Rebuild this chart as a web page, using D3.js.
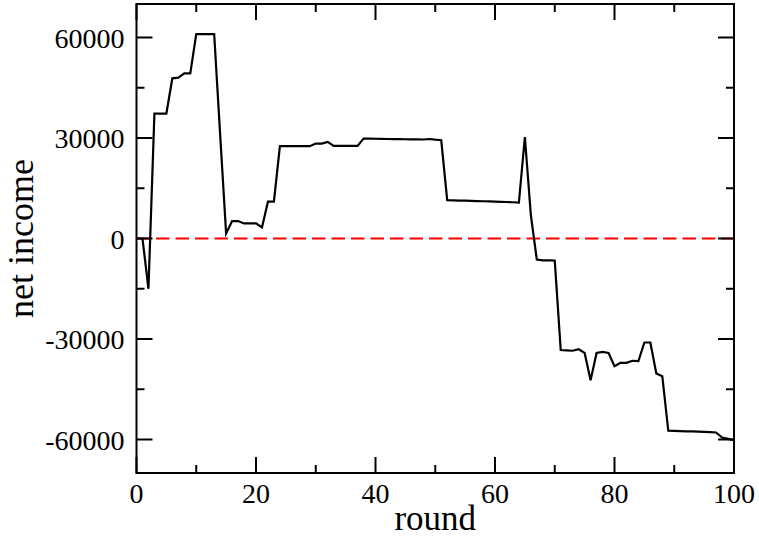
<!DOCTYPE html>
<html>
<head>
<meta charset="utf-8">
<script src="https://cdn.jsdelivr.net/npm/d3@7"></script>
<style>
  body { margin: 0; background: #fff; }
  svg text { font-family: "Liberation Serif", "Times New Roman", serif; fill: #000; }
</style>
</head>
<body>
<div id="chart"></div>
<script>
const W = 759, H = 539;
const margin = {top: 4, right: 25, bottom: 66, left: 136.5};

// net income per round
const rounds = d3.range(0, 101);
const income = [
  0, 0, -15000, 37300, 37300, 37300, 47800, 48000, 49300, 49300,
  61000, 61000, 61000, 61000, 31000, 1500, 5200, 5200, 4500, 4500,
  4500, 3300, 11000, 11000, 27550, 27550, 27550, 27550, 27550, 27550,
  28350, 28350, 28850, 27650, 27650, 27650, 27650, 27650, 29850, 29800,
  29780, 29750, 29700, 29680, 29650, 29620, 29600, 29580, 29550, 29700,
  29500, 29350, 11430, 11380, 11330, 11280, 11230, 11180, 11120, 11060,
  11000, 10950, 10900, 10820, 10750, 30300, 7000, -6300, -6500, -6500,
  -6600, -33300, -33400, -33500, -33050, -34150, -42300, -34150, -33850, -34150,
  -38100, -37100, -37100, -36500, -36600, -31050, -31050, -40300, -41100, -57400,
  -57450, -57500, -57550, -57600, -57650, -57700, -57800, -57900, -59400, -59800,
  -60200
];

const xDomain = [0, 100];
const yDomain = [-70000, 70000];
const xMajor = [0, 20, 40, 60, 80, 100];
const xMinor = [10, 30, 50, 70, 90];
const yMajor = [-60000, -30000, 0, 30000, 60000];
const yMinor = [-45000, -15000, 15000, 45000];

const iw = W - margin.left - margin.right,
    ih = H - margin.top - margin.bottom;

const x = d3.scaleLinear().domain(xDomain).range([0, iw]);
const y = d3.scaleLinear().domain(yDomain).range([ih, 0]);

const svg = d3.select("#chart").append("svg")
    .attr("width", W)
    .attr("height", H);

const g = svg.append("g")
    .attr("transform", "translate(" + margin.left + "," + margin.top + ")");

// zero reference line
g.append("line")
    .attr("x1", x(xDomain[0])).attr("x2", x(xDomain[1]))
    .attr("y1", y(0)).attr("y2", y(0))
    .style("stroke", "#ff0000")
    .style("stroke-width", 2)
    .style("stroke-dasharray", "13.5,6");

// the data line
const line = d3.line()
    .x(function (d, i) { return x(rounds[i]); })
    .y(function (d) { return y(d); });

g.append("path")
    .datum(income)
    .attr("d", line)
    .style("fill", "none")
    .style("stroke", "#000")
    .style("stroke-width", 2.2)
    .style("stroke-linejoin", "miter");

// inward ticks on all four sides
const majorLen = 16, minorLen = 8;
function tickLines(vals, len, horizontal) {
    vals.forEach(function (v) {
        if (horizontal) {
            g.append("line").attr("class", "tick").attr("x1", x(v)).attr("x2", x(v)).attr("y1", ih).attr("y2", ih - len);
            g.append("line").attr("class", "tick").attr("x1", x(v)).attr("x2", x(v)).attr("y1", 0).attr("y2", len);
        } else {
            g.append("line").attr("class", "tick").attr("y1", y(v)).attr("y2", y(v)).attr("x1", 0).attr("x2", len);
            g.append("line").attr("class", "tick").attr("y1", y(v)).attr("y2", y(v)).attr("x1", iw).attr("x2", iw - len);
        }
    });
}
tickLines(xMajor, majorLen, true);
tickLines(xMinor, minorLen, true);
tickLines(yMajor, majorLen, false);
tickLines(yMinor, minorLen, false);
g.selectAll("line.tick")
    .style("stroke", "#000")
    .style("stroke-width", 2);

// frame
g.append("rect")
    .attr("width", iw).attr("height", ih)
    .style("fill", "none")
    .style("stroke", "#000")
    .style("stroke-width", 2);

// tick labels
g.selectAll("text.xl")
    .data(xMajor).enter().append("text")
    .attr("class", "xl")
    .attr("x", function (d) { return x(d); })
    .attr("y", ih + 30)
    .style("text-anchor", "middle")
    .style("font-size", "28px")
    .text(function (d) { return d; });

g.selectAll("text.yl")
    .data(yMajor).enter().append("text")
    .attr("class", "yl")
    .attr("x", -12)
    .attr("y", function (d) { return y(d) + 10; })
    .style("text-anchor", "end")
    .style("font-size", "28px")
    .text(function (d) { return d; });

// axis titles
svg.append("text")
    .attr("x", margin.left + iw / 2)
    .attr("y", 530)
    .style("text-anchor", "middle")
    .style("font-size", "35px")
    .text("round");

svg.append("text")
    .attr("transform", "translate(33," + (margin.top + y(0)) + ") rotate(-90)")
    .style("text-anchor", "middle")
    .style("font-size", "36px")
    .text("net income");
</script>
</body>
</html>
